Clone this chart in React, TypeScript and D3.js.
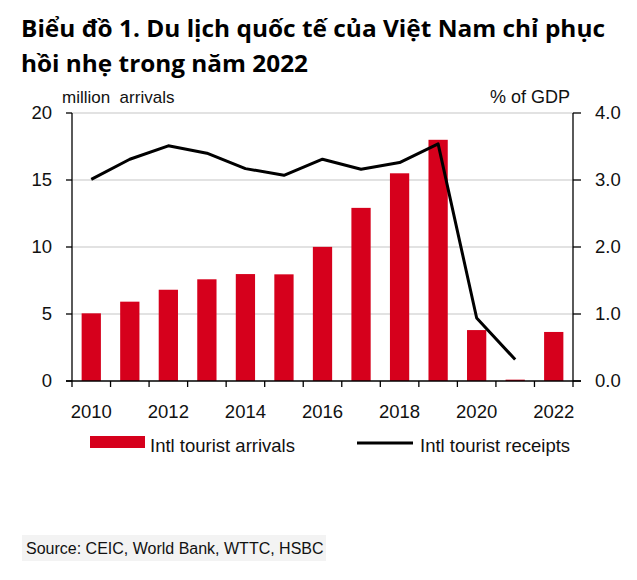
import React from "react";
import * as d3 from "d3";

const years = [2010, 2011, 2012, 2013, 2014, 2015, 2016, 2017, 2018, 2019, 2020, 2021, 2022];
const arrivals = [5.05, 5.92, 6.81, 7.59, 7.98, 7.96, 10.01, 12.92, 15.5, 18.0, 3.8, 0.1, 3.66];
const receipts: (number | null)[] = [3.01, 3.31, 3.51, 3.4, 3.17, 3.07, 3.31, 3.16, 3.26, 3.54, 0.94, 0.32, null];
const leftTicks = [0, 5, 10, 15, 20];
const rightTicks = [0, 1, 2, 3, 4];
const xLabelYears = [2010, 2012, 2014, 2016, 2018, 2020, 2022];

const titleLine1 = "Biểu đồ 1. Du lịch quốc tế của Việt Nam chỉ phục";
const titleLine2 = "hồi nhẹ trong năm 2022";
const leftAxisTitle = "million  arrivals";
const rightAxisTitle = "% of GDP";
const legendBar = "Intl tourist arrivals";
const legendLine = "Intl tourist receipts";
const sourceText = "Source: CEIC, World Bank, WTTC, HSBC";

const W = 637;
const H = 580;
const left = 72;
const right = 573;
const top = 113;
const bottom = 381;
const RED = "#d6001c";
const FONT = "'Liberation Sans', Arial, sans-serif";

export default function App() {
  const x = d3.scaleBand<number>().domain(years).range([left, right]).padding(0);
  const bw = x.bandwidth();
  const yL = d3.scaleLinear().domain([0, 20]).range([bottom, top]);
  const yR = d3.scaleLinear().domain([0, 4]).range([bottom, top]);
  const barW = bw * 0.5;

  const lineData = years
    .map((yr, i) => ({ yr, v: receipts[i] }))
    .filter((d) => d.v !== null) as { yr: number; v: number }[];
  const lineGen = d3
    .line<{ yr: number; v: number }>()
    .x((d) => (x(d.yr) as number) + bw / 2)
    .y((d) => yR(d.v));

  const tickXs = [...years.map((yr) => x(yr) as number), right];

  return (
    <svg
      width={W}
      height={H}
      style={{ position: "absolute", left: 0, top: 0, background: "#fff" }}
      fontFamily={FONT}
    >
      <rect x={0} y={0} width={W} height={H} fill="#fff" />
      {/* Title */}
      <text
        x={21}
        y={37}
        fontFamily="'Open Sans', sans-serif"
        fontWeight="bold"
        fontSize={24}
        textLength={584}
        lengthAdjust="spacingAndGlyphs"
        fill="#000"
      >
        {titleLine1}
      </text>
      <text
        x={21}
        y={72}
        fontFamily="'Open Sans', sans-serif"
        fontWeight="bold"
        fontSize={24}
        textLength={287}
        lengthAdjust="spacingAndGlyphs"
        fill="#000"
      >
        {titleLine2}
      </text>

      {/* Axis titles */}
      <text x={62} y={103} fontSize={17} fill="#111" style={{ whiteSpace: "pre" }}>
        {leftAxisTitle}
      </text>
      <text x={570} y={103} fontSize={18} fill="#111" textAnchor="end">
        {rightAxisTitle}
      </text>

      {/* Gridlines */}
      {leftTicks
        .filter((t) => t > 0)
        .map((t) => (
          <line key={"g" + t} x1={left} x2={right} y1={yL(t)} y2={yL(t)} stroke="#d9d9d9" strokeWidth={1.3} />
        ))}

      {/* Bars */}
      {years.map((yr, i) => (
        <rect
          key={"b" + yr}
          x={(x(yr) as number) + (bw - barW) / 2}
          y={yL(arrivals[i])}
          width={barW}
          height={bottom - yL(arrivals[i])}
          fill={RED}
        />
      ))}

      {/* Line */}
      <path d={lineGen(lineData) || ""} fill="none" stroke="#000" strokeWidth={3} strokeLinejoin="round" />

      {/* Axes */}
      <line x1={left} x2={left} y1={top} y2={bottom} stroke="#000" strokeWidth={1.3} />
      <line x1={right} x2={right} y1={top} y2={bottom} stroke="#000" strokeWidth={1.3} />
      <line x1={left - 6} x2={right + 8} y1={bottom} y2={bottom} stroke="#000" strokeWidth={1.3} />

      {leftTicks.map((t) => (
        <g key={"lt" + t}>
          <line x1={left - 6} x2={left} y1={yL(t)} y2={yL(t)} stroke="#000" strokeWidth={1.3} />
          <text x={52} y={yL(t)} dy="0.35em" textAnchor="end" fontSize={18.5} fill="#111">
            {t}
          </text>
        </g>
      ))}
      {rightTicks.map((t) => (
        <g key={"rt" + t}>
          <line x1={right} x2={right + 8} y1={yR(t)} y2={yR(t)} stroke="#000" strokeWidth={1.3} />
          <text x={595} y={yR(t)} dy="0.35em" textAnchor="start" fontSize={18.5} fill="#111">
            {t.toFixed(1)}
          </text>
        </g>
      ))}
      {tickXs.map((tx, i) => (
        <line key={"xt" + i} x1={tx} x2={tx} y1={bottom} y2={bottom + 6} stroke="#000" strokeWidth={1.3} />
      ))}
      {xLabelYears.map((yr) => (
        <text key={"xl" + yr} x={(x(yr) as number) + bw / 2} y={418} textAnchor="middle" fontSize={18.5} fill="#111">
          {yr}
        </text>
      ))}

      {/* Legend */}
      <rect x={90} y={436} width={55} height={12} fill={RED} />
      <text x={150} y={452} fontSize={18.5} fill="#111">
        {legendBar}
      </text>
      <line x1={357} x2={413} y1={443} y2={443} stroke="#000" strokeWidth={3} />
      <text x={420} y={452} fontSize={18.5} fill="#111">
        {legendLine}
      </text>

      {/* Source */}
      <rect x={22} y={535} width={304} height={26} fill="#f3f3f3" />
      <text x={26} y={554} fontSize={16} fill="#111">
        {sourceText}
      </text>
    </svg>
  );
}
